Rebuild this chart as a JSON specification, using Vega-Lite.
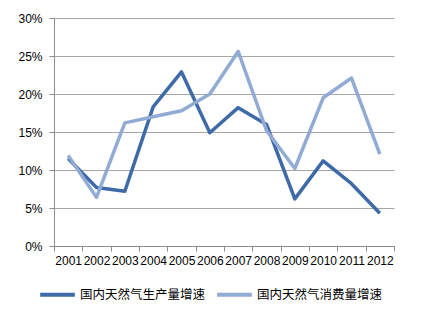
{
  "$schema": "https://vega.github.io/schema/vega-lite/v6.json",
  "width": 340,
  "height": 228,
  "autosize": {"type": "none"},
  "padding": {"left": 54, "top": 18, "right": 28, "bottom": 71},
  "background": "white",
  "config": {
    "view": {"stroke": null},
    "font": "Liberation Sans",
    "axis": {"labelFont": "Liberation Sans", "labelFontSize": 12, "labelColor": "#000000", "domainColor": "#8C8C8C", "tickColor": "#8C8C8C", "gridColor": "#A6A6A6"}
  },
  "data": {
    "values": [
      {"year": "2001", "series": "国内天然气生产量增速", "value": 0.115},
      {"year": "2002", "series": "国内天然气生产量增速", "value": 0.077},
      {"year": "2003", "series": "国内天然气生产量增速", "value": 0.072},
      {"year": "2004", "series": "国内天然气生产量增速", "value": 0.183},
      {"year": "2005", "series": "国内天然气生产量增速", "value": 0.229},
      {"year": "2006", "series": "国内天然气生产量增速", "value": 0.149},
      {"year": "2007", "series": "国内天然气生产量增速", "value": 0.182},
      {"year": "2008", "series": "国内天然气生产量增速", "value": 0.160},
      {"year": "2009", "series": "国内天然气生产量增速", "value": 0.062},
      {"year": "2010", "series": "国内天然气生产量增速", "value": 0.112},
      {"year": "2011", "series": "国内天然气生产量增速", "value": 0.082},
      {"year": "2012", "series": "国内天然气生产量增速", "value": 0.043},
      {"year": "2001", "series": "国内天然气消费量增速", "value": 0.119},
      {"year": "2002", "series": "国内天然气消费量增速", "value": 0.064},
      {"year": "2003", "series": "国内天然气消费量增速", "value": 0.162},
      {"year": "2004", "series": "国内天然气消费量增速", "value": 0.170},
      {"year": "2005", "series": "国内天然气消费量增速", "value": 0.178},
      {"year": "2006", "series": "国内天然气消费量增速", "value": 0.200},
      {"year": "2007", "series": "国内天然气消费量增速", "value": 0.256},
      {"year": "2008", "series": "国内天然气消费量增速", "value": 0.152},
      {"year": "2009", "series": "国内天然气消费量增速", "value": 0.102},
      {"year": "2010", "series": "国内天然气消费量增速", "value": 0.195},
      {"year": "2011", "series": "国内天然气消费量增速", "value": 0.221},
      {"year": "2012", "series": "国内天然气消费量增速", "value": 0.121}
    ]
  },
  "mark": {"type": "line", "strokeWidth": 3.5, "strokeJoin": "round"},
  "encoding": {
    "x": {
      "field": "year",
      "type": "ordinal",
      "scale": {"type": "band", "paddingInner": 0, "paddingOuter": 0},
      "axis": {"title": null, "labelAngle": 0, "tickBand": "extent", "tickSize": 5, "labelPadding": 4, "grid": false}
    },
    "y": {
      "field": "value",
      "type": "quantitative",
      "scale": {"domain": [0, 0.3]},
      "axis": {"title": null, "format": ".0%", "values": [0, 0.05, 0.1, 0.15, 0.2, 0.25, 0.3], "tickSize": 5, "labelPadding": 7, "grid": true}
    },
    "color": {
      "field": "series",
      "type": "nominal",
      "scale": {"domain": ["国内天然气生产量增速", "国内天然气消费量增速"], "range": ["#3E6BA8", "#92ABD4"]},
      "legend": {
        "title": null,
        "orient": "none",
        "legendX": -16,
        "legendY": 257,
        "direction": "horizontal",
        "symbolType": "stroke",
        "symbolSize": 1200,
        "symbolStrokeWidth": 4,
        "labelFont": "Noto Sans CJK SC",
        "labelFontSize": 12.5,
        "labelOffset": 3,
        "labelColor": "#000000",
        "columnPadding": 3
      }
    }
  }
}
